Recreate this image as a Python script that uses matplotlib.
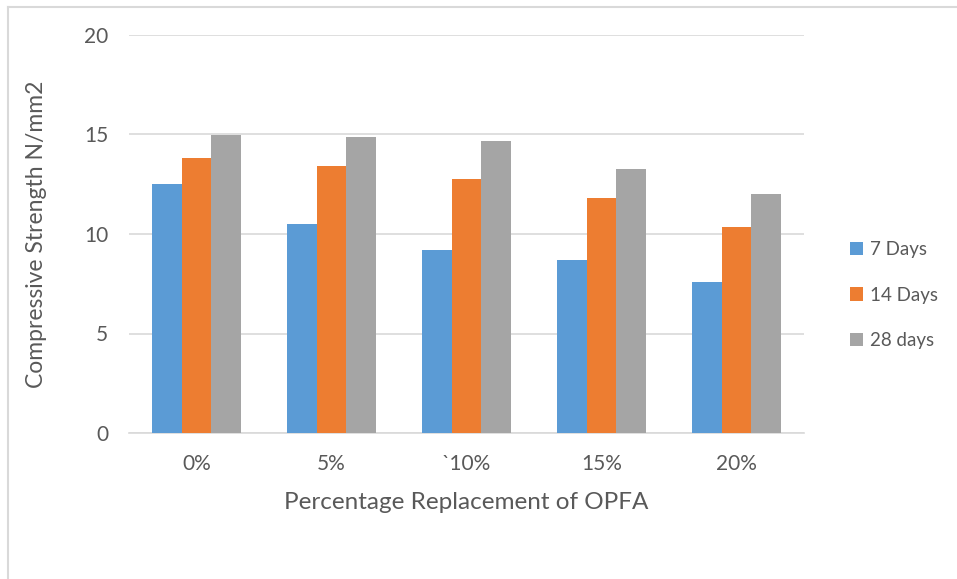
import numpy as np
import matplotlib
matplotlib.use("Agg")
import matplotlib.pyplot as plt
from matplotlib.lines import Line2D

# data
categories = ["0%", "5%", "`10%", "15%", "20%"]
series_names = ["7 Days", "14 Days", "28 days"]
days_7 = [12.5, 10.5, 9.2, 8.7, 7.6]
days_14 = [13.8, 13.4, 12.75, 11.8, 10.35]
days_28 = [14.95, 14.85, 14.65, 13.25, 12.0]
colors = ["#5b9bd5", "#ed7d31", "#a5a5a5"]

text_col = "#595959"
plt.rcParams["font.family"] = ["Lato", "DejaVu Sans"]

fig = plt.figure(figsize=(9.57, 5.79), dpi=100)
ax = fig.add_axes([129 / 957, 1 - 433 / 579, 675 / 957, 398 / 579])

x = np.arange(len(categories))
w = 0.22
for i, (vals, name) in enumerate(zip([days_7, days_14, days_28], series_names)):
    ax.bar(x + (i - 1) * w, vals, width=w, color=colors[i], label=name, zorder=3)

ax.set_xlim(-0.5, len(categories) - 0.5)
ax.set_ylim(0, 20)
ax.set_yticks([0, 5, 10, 15, 20])
ax.grid(axis="y", color="#d9d9d9", linewidth=1.2, zorder=0)
for s in ["top", "right", "left"]:
    ax.spines[s].set_visible(False)
ax.spines["bottom"].set_color("#d9d9d9")
ax.spines["bottom"].set_linewidth(1.2)
ax.tick_params(axis="both", length=0, labelsize=15, labelcolor=text_col)
ax.tick_params(axis="y", pad=15)
ax.tick_params(axis="x", pad=15)
ax.set_xticks(x)
ax.set_xticklabels(categories)

ax.set_xlabel("Percentage Replacement of OPFA", fontsize=17.5, color=text_col, labelpad=13)
ax.set_ylabel("Compressive Strength N/mm2", fontsize=16.5, color=text_col)
ax.yaxis.set_label_coords(-82 / 675, 0.5)

leg = fig.legend(loc="center left", bbox_to_anchor=(833 / 957, 1 - 295 / 579),
                 frameon=False, fontsize=13.5, handlelength=0.7, handleheight=0.7,
                 handletextpad=0.35, labelspacing=1.5)
for t in leg.get_texts():
    t.set_color(text_col)

# faint outer chart border (left and top edges visible)
fig.add_artist(Line2D([8 / 957, 8 / 957], [0, 1 - 7 / 579], transform=fig.transFigure,
                      color="#d9d9d9", linewidth=1.5))
fig.add_artist(Line2D([8 / 957, 1], [1 - 7 / 579, 1 - 7 / 579], transform=fig.transFigure,
                      color="#d9d9d9", linewidth=1.5))

fig.savefig("out.png", dpi=100)
